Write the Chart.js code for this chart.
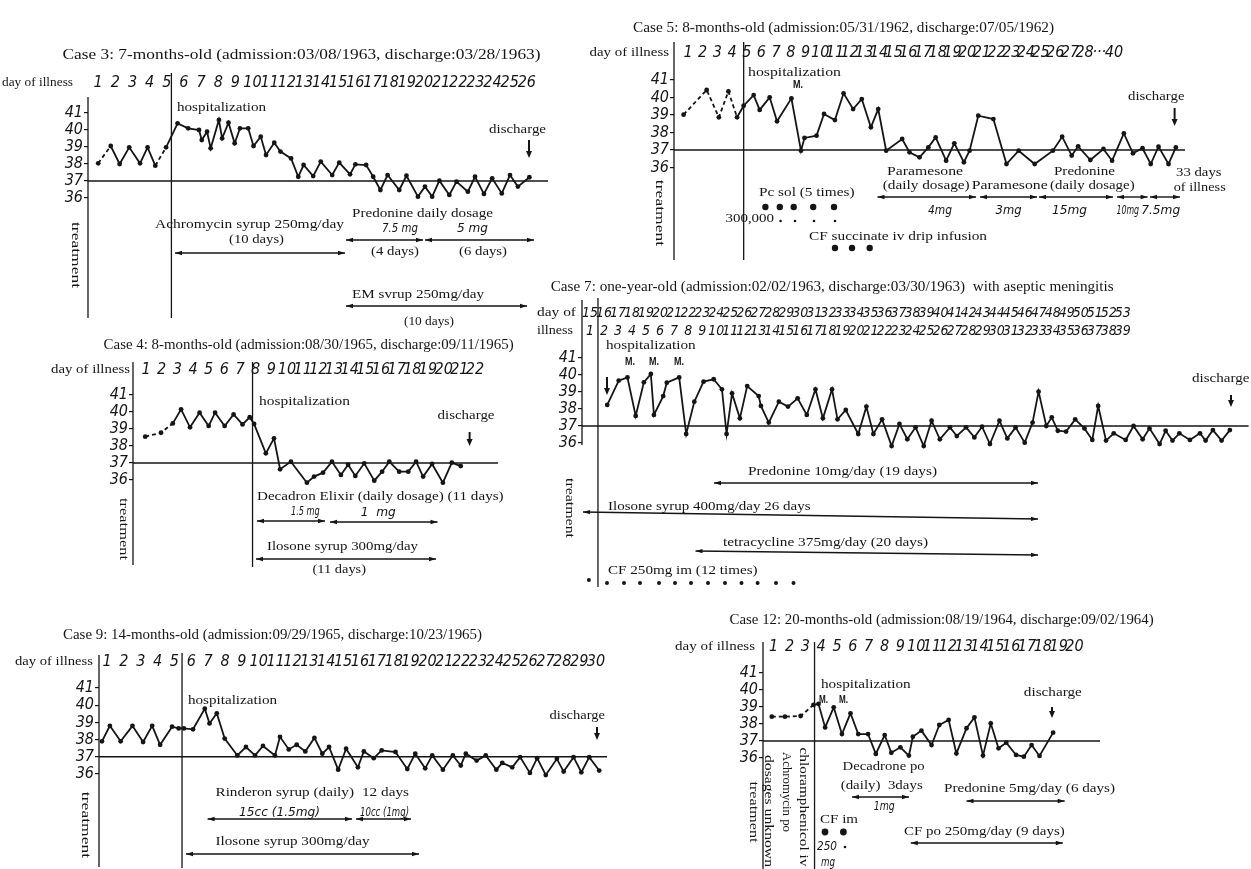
<!DOCTYPE html>
<html>
<head>
<meta charset="utf-8">
<title>Fever charts</title>
<script src="https://cdn.jsdelivr.net/npm/chart.js@4.4.1/dist/chart.umd.min.js"></script>
<style>
  html, body { margin: 0; padding: 0; background: #fff; }
  #sheet { position: relative; width: 1251px; height: 869px; overflow: hidden; background: #fff; }
  #sheet canvas { position: absolute; left: 0; top: 0; }
</style>
</head>
<body>
<div id="sheet"></div>
<script>
// ---------- Case 3 ----------
const case3DayLabels = ['1','2','3','4','5','6','7','8','9','10','11','12','13','14','15','16','17','18','19','20','21','22','23','24','25','26'];
const case3Day = [1.0, 1.73, 2.25, 2.81, 3.44, 3.88, 4.33, 4.96, 5.63, 6.25, 6.88, 7.04, 7.35, 7.56, 8.04, 8.23, 8.6, 8.96, 9.27, 9.75,
  10.06, 10.48, 10.79, 11.27, 11.63, 12.25, 12.67, 12.98, 13.54, 13.98, 14.65, 15.06, 15.69, 16.0, 16.63, 17.04, 17.46, 17.88, 18.56, 18.98,
  19.65, 20.06, 20.48, 20.9, 21.48, 21.9, 22.56, 22.98, 23.5, 23.98, 24.54, 25.02, 25.48, 26.15];
const case3Temp = [38.04, 39.06, 38.0, 38.98, 38.04, 38.98, 37.9, 38.98, 40.39, 40.1, 40.0, 39.41, 39.9, 38.92, 40.59, 39.51, 40.43, 39.22, 40.1, 40.1,
  39.06, 39.61, 38.53, 39.25, 38.73, 38.33, 37.25, 37.94, 37.29, 38.14, 37.35, 38.08, 37.39, 37.98, 37.94, 37.25, 36.47, 37.35, 36.47, 37.31,
  36.08, 36.67, 36.08, 37.02, 36.18, 36.96, 36.37, 37.25, 36.24, 37.16, 36.27, 37.35, 36.67, 37.22];
const case3Admission = 5.27;

// ---------- Case 5 ----------
const case5DayLabels = ['1','2','3','4','5','6','7','8','9','10','11','12','13','14','15','16','17','18','19','20','21','22','23','24','25','26','27','28','\u00b7\u00b7\u00b7','40'];
const case5Day = [0.70, 2.27, 3.10, 3.75, 4.34, 4.79, 5.47, 5.88, 6.56, 7.06, 8.04, 8.69, 8.93, 9.75, 10.26, 11.0, 11.59, 12.24, 12.83, 13.45,
  13.95, 14.49, 15.58, 16.08, 16.76, 17.36, 17.86, 18.57, 19.13, 19.78, 20.17, 20.76, 21.79, 22.68, 23.51, 24.6, 25.84, 26.47, 27.12, 27.56,
  28.39, 29.28, 29.87, 30.67, 31.29, 31.94, 32.5, 33.03, 33.71, 34.21];
const case5Temp = [39.02, 40.43, 38.87, 40.35, 38.87, 39.53, 40.14, 39.29, 40.01, 38.64, 39.95, 36.96, 37.69, 37.82, 39.06, 38.71, 40.24, 39.34, 39.91, 38.3,
  39.34, 36.96, 37.63, 36.87, 36.58, 37.15, 37.72, 36.39, 37.38, 36.3, 36.96, 38.96, 38.77, 36.2, 36.96, 36.2, 36.96, 37.76, 36.68, 37.21,
  36.43, 37.06, 36.39, 37.95, 36.81, 37.1, 36.2, 37.19, 36.2, 37.15];
const case5Admission = 4.79;

// ---------- Case 4 ----------
const case4DayLabels = ['1','2','3','4','5','6','7','8','9','10','11','12','13','14','15','16','17','18','19','20','21','22'];
const case4Day = [0.95, 1.96, 2.71, 3.24, 3.81, 4.42, 5.0, 5.41, 6.02, 6.59, 7.16, 7.62, 7.9, 8.65, 9.17, 9.56, 10.25, 11.27, 11.73, 12.3,
  12.87, 13.44, 13.9, 14.36, 14.93, 15.57, 16.07, 16.53, 17.16, 17.74, 18.24, 18.69, 19.26, 19.95, 20.52, 21.09];
const case4Temp = [38.55, 38.78, 39.33, 40.16, 39.1, 39.96, 39.18, 39.96, 39.18, 39.86, 39.27, 39.69, 39.3, 37.57, 38.45, 36.63, 37.08, 35.84, 36.2, 36.43,
  37.08, 36.3, 36.9, 36.24, 36.98, 35.96, 36.49, 37.08, 36.49, 36.49, 37.08, 36.2, 36.94, 35.84, 37.02, 36.82];
const case4Admission = 7.8;

// ---------- Case 9 ----------
const case9DayLabels = ['1','2','3','4','5','6','7','8','9','10','11','12','13','14','15','16','17','18','19','20','21','22','23','24','25','26','27','28','29','30'];
const case9Day = [0.70, 1.17, 1.81, 2.51, 3.14, 3.68, 4.15, 4.86, 5.25, 5.56, 6.1, 6.8, 7.08, 7.51, 7.98, 8.73, 9.24, 9.78, 10.25, 10.96,
  11.26, 11.78, 12.25, 12.76, 13.3, 13.77, 14.17, 14.71, 15.18, 15.88, 16.23, 16.82, 17.29, 18.11, 18.81, 19.28, 19.87, 20.29, 20.92, 21.51,
  21.98, 22.28, 22.92, 23.46, 24.09, 24.44, 25.03, 25.5, 26.08, 26.51, 27.02, 27.68, 28.08, 28.67, 29.13, 29.6, 30.19];
const case9Temp = [37.9, 38.8, 37.9, 38.8, 37.86, 38.8, 37.7, 38.75, 38.65, 38.65, 38.6, 39.8, 38.94, 39.53, 38.06, 37.08, 37.57, 37.08, 37.63, 37.08,
  38.16, 37.43, 37.7, 37.31, 38.1, 37.18, 37.57, 36.25, 37.47, 36.39, 37.31, 36.92, 37.37, 37.28, 36.29, 37.18, 36.33, 37.08, 36.25, 37.08,
  36.49, 37.18, 36.78, 37.08, 36.25, 36.65, 36.39, 36.98, 36.06, 36.92, 35.94, 36.88, 36.14, 36.98, 36.1, 36.98, 36.2];
const case9Admission = 5.45;

// ---------- Case 12 ----------
const case12DayLabels = ['1','2','3','4','5','6','7','8','9','10','11','12','13','14','15','16','17','18','19','20'];
const case12Day = [0.88, 1.71, 2.7, 3.51, 3.83, 4.25, 4.79, 5.31, 5.85, 6.34, 6.96, 7.45, 8.01, 8.43, 9.0, 9.54, 9.79, 10.33, 10.97, 11.46,
  12.05, 12.54, 13.18, 13.68, 14.22, 14.71, 15.2, 15.69, 16.31, 16.8, 17.29, 17.79, 18.65];
const case12Temp = [38.43, 38.43, 38.47, 39.12, 39.18, 37.8, 38.98, 37.41, 38.63, 37.41, 37.41, 36.24, 37.35, 36.31, 36.63, 36.14, 37.25, 37.61, 36.76, 37.94,
  38.24, 36.27, 37.75, 38.39, 36.14, 38.04, 36.57, 36.9, 36.18, 36.08, 36.76, 36.12, 37.49];
const case12Admission = 3.58;

// ---------- Case 7 (two label rows: day of illness / day in hospital) ----------
const case7IllnessDays = ['15','16','17','18','19','20','21','22','23','24','25','26','27','28','29','30','31','32','33','34','35','36','37','38','39','40','41','42','43','44','45','46','47','48','49','50','51','52','53'];
const case7HospitalDays = ['1','2','3','4','5','6','7','8','9','10','11','12','13','14','15','16','17','18','19','20','21','22','23','24','25','26','27','28','29','30','31','32','33','34','35','36','37','38','39'];
const case7Day = [2.23, 3.05, 3.67, 4.26, 4.84, 5.34, 5.56, 6.22, 6.48, 7.36, 7.86, 8.44, 9.1, 9.82, 10.41, 10.74, 11.13, 11.69, 12.21, 13.03,
  13.19, 13.75, 14.47, 15.12, 15.81, 16.46, 17.08, 17.61, 18.26, 18.65, 19.24, 20.13, 20.71, 21.21, 21.83, 22.51, 23.07, 23.63, 24.22, 24.8,
  25.36, 25.95, 26.67, 27.16, 27.82, 28.41, 28.96, 29.52, 30.2, 30.76, 31.35, 32.0, 32.56, 32.99, 33.54, 33.93, 34.36, 34.95, 35.6, 36.26,
  36.82, 37.24, 37.8, 38.35, 39.2, 39.76, 40.41, 40.9, 41.62, 42.05, 42.54, 43.03, 43.78, 44.5, 44.9, 45.42, 46.04, 46.63];
const case7Temp = [38.24, 39.67, 39.86, 37.59, 39.57, 40.06, 37.65, 38.76, 39.55, 39.86, 36.53, 38.43, 39.61, 39.75, 39.16, 36.53, 38.92, 37.45, 39.35, 38.76,
  38.18, 37.2, 38.43, 38.14, 38.63, 37.65, 39.16, 37.45, 39.16, 37.39, 37.94, 36.53, 38.14, 36.53, 37.39, 35.82, 37.12, 36.22, 36.92, 35.82,
  37.31, 36.22, 36.92, 36.41, 36.92, 36.33, 36.96, 35.94, 37.31, 36.27, 36.92, 36.02, 37.2, 39.02, 37.0, 37.51, 36.72, 36.67, 37.39, 36.86,
  36.18, 38.18, 36.14, 36.57, 36.18, 37.0, 36.22, 36.86, 35.94, 36.72, 36.14, 36.57, 36.18, 36.57, 36.14, 36.76, 36.14, 36.76];
const case7Admission = 1.57;

const temperatureTicks = [36, 37, 38, 39, 40, 41];

// ---------- drawing styles ----------
const INK = '#151515';
const SERIF = '"Liberation Serif", "DejaVu Serif", serif';
const NARROW = '"Liberation Sans Narrow", "DejaVu Sans Condensed", "Liberation Sans", sans-serif';
const SANS = '"Liberation Sans", "DejaVu Sans", sans-serif';
const T_MAX = 41.3, T_MIN = 35.5;

// Text items: [text, left x (centre x when rotated), centre y, width, size, kind]
// kind: 's' serif, 'i' italic handwriting-style, 'b' bold mark, 'r' serif rotated a quarter turn
const panels = [
  {
    days: case3Day, temps: case3Temp, labels: case3DayLabels, admission: case3Admission,
    left: 88, right: 548, y41: 113, y36: 198,
    dayFirstX: 98.2, dayLastX: 526.8, labelY: 83, labelFont: 16, labelLine: 19,
    axisSpan: [97, 318], hospSpan: [73, 318], dashed: [0, 6],
    texts: [
      ['Case 3: 7-months-old (admission:03/08/1963, discharge:03/28/1963)', 62.5, 55, 478, 14, 's'],
      ['day of illness', 2, 83, 71, 13, 's'],
      ['hospitalization', 177, 108, 89, 13, 's'],
      ['discharge', 489, 130, 57, 13, 's'],
      ['treatment', 75, 255, 66, 13, 'r'],
      ['Achromycin syrup 250mg/day', 155, 225, 189, 13, 's'],
      ['(10 days)', 229, 240, 55, 13, 's'],
      ['Predonine daily dosage', 352, 214, 141, 13, 's'],
      ['7.5 mg', 382, 229, 36, 13, 'i'],
      ['5 mg', 457, 229, 31, 13, 'i'],
      ['(4 days)', 371, 252, 48, 13, 's'],
      ['(6 days)', 459, 252, 48, 13, 's'],
      ['EM svrup 250mg/day', 352, 295, 132, 13, 's'],
      ['(10 days)', 404, 322, 50, 13, 's']
    ],
    arrows: [[175, 253, 345, 253], [346, 240, 423, 240], [425, 240, 534, 240], [346, 306, 527, 306]],
    downArrows: [[529, 140, 158]],
    dots: []
  },
  {
    days: case5Day, temps: case5Temp, labels: case5DayLabels, admission: case5Admission,
    left: 674, right: 1185, y41: 80, y36: 167.5,
    dayFirstX: 688, dayLastX: 1114, labelY: 53, labelFont: 16, labelLine: 19,
    axisSpan: [42, 260], hospSpan: [42, 260], dashed: [0, 1, 2, 3],
    texts: [
      ['Case 5: 8-months-old (admission:05/31/1962, discharge:07/05/1962)', 633, 28, 421, 14, 's'],
      ['day of illness', 589.5, 53, 79.5, 13, 's'],
      ['hospitalization', 748, 73, 93, 13, 's'],
      ['M.', 793, 85, 10, 10, 'b'],
      ['discharge', 1128, 97, 56.5, 13, 's'],
      ['treatment', 659, 213, 67, 13, 'r'],
      ['Paramesone', 887, 172, 76, 13, 's'],
      ['(daily dosage)', 882.7, 186, 87, 13, 's'],
      ['Paramesone', 971.7, 186, 76, 13, 's'],
      ['Predonine', 1054, 172, 61, 13, 's'],
      ['(daily dosage)', 1050, 186, 84.6, 13, 's'],
      ['33 days', 1176, 173, 45.5, 13, 's'],
      ['of illness', 1173.7, 188, 52, 13, 's'],
      ['4mg', 928, 211, 24, 12, 'i'],
      ['3mg', 995.6, 211, 26, 12, 'i'],
      ['15mg', 1052, 211, 35, 12, 'i'],
      ['10mg', 1116.4, 211, 22.6, 12, 'i'],
      ['7.5mg', 1141.2, 211, 39, 12, 'i'],
      ['Pc sol (5 times)', 759, 193, 95.5, 13, 's'],
      ['300,000', 725.5, 219, 48.5, 12, 's'],
      ['CF succinate iv drip infusion', 809, 237, 178, 13, 's']
    ],
    arrows: [[877.5, 197, 976, 197], [980, 197, 1037, 197], [1039, 197, 1113, 197], [1117, 197, 1147.6, 197], [1150, 197, 1180, 197]],
    downArrows: [[1174.6, 108, 126]],
    dots: [[765.4, 207, 3.2], [779.8, 207, 3.2], [793.7, 207, 3.2], [813.2, 207, 3.2], [834, 207, 3.2],
           [780.6, 221, 1.3], [795, 221, 1.3], [814, 221, 1.3], [835, 221, 1.3],
           [835, 248, 3.2], [852, 248, 3.2], [869.7, 248, 3.2]]
  },
  {
    days: case4Day, temps: case4Temp, labels: case4DayLabels, admission: case4Admission,
    left: 133, right: 498, y41: 395, y36: 480,
    dayFirstX: 146, dayLastX: 475, labelY: 370, labelFont: 16, labelLine: 19,
    axisSpan: [362, 565], hospSpan: [362, 567], dashed: [0, 1],
    texts: [
      ['Case 4: 8-months-old (admission:08/30/1965, discharge:09/11/1965)', 103.6, 345, 410, 14, 's'],
      ['day of illness', 51, 370, 79, 13, 's'],
      ['hospitalization', 259, 402, 91, 13, 's'],
      ['discharge', 437.5, 416, 57, 13, 's'],
      ['treatment', 123, 529, 62, 13, 'r'],
      ['Decadron Elixir (daily dosage) (11 days)', 257, 497, 246.6, 13, 's'],
      ['1.5 mg', 291, 512, 27, 13, 'i'],
      ['1  mg', 360.7, 513, 35, 13, 'i'],
      ['Ilosone syrup 300mg/day', 267, 547, 151, 13, 's'],
      ['(11 days)', 312.5, 570, 53.5, 13, 's']
    ],
    arrows: [[257, 521, 325, 521], [330, 522, 437.5, 522], [256, 559, 436, 559]],
    downArrows: [[469.6, 432, 446]],
    dots: []
  },
  {
    days: case9Day, temps: case9Temp, labels: case9DayLabels, admission: case9Admission,
    left: 99, right: 607, y41: 688, y36: 774,
    dayFirstX: 107, dayLastX: 596, labelY: 662, labelFont: 16, labelLine: 19,
    axisSpan: [655, 867], hospSpan: [653, 868], dashed: [],
    texts: [
      ['Case 9: 14-months-old (admission:09/29/1965, discharge:10/23/1965)', 63, 635, 419, 14, 's'],
      ['day of illness', 15, 662, 78, 13, 's'],
      ['hospitalization', 188, 701, 89, 13, 's'],
      ['discharge', 549.6, 716, 55.4, 13, 's'],
      ['treatment', 85, 825, 70, 13, 'r'],
      ['Rinderon syrup (daily)', 215.5, 793, 138.5, 13, 's'],
      ['12 days', 362, 793, 47, 13, 's'],
      ['15cc (1.5mg)', 239, 813, 81, 13, 'i'],
      ['10cc (1mg)', 360, 813, 49, 13, 'i'],
      ['Ilosone syrup 300mg/day', 215.5, 842, 154, 13, 's']
    ],
    arrows: [[207.6, 819, 352, 819], [356, 819, 411, 819], [186, 854, 419, 854]],
    downArrows: [[597, 727, 740]],
    dots: []
  },
  {
    days: case12Day, temps: case12Temp, labels: case12DayLabels, admission: case12Admission,
    left: 763, right: 1100, y41: 673, y36: 758,
    dayFirstX: 773.7, dayLastX: 1074.5, labelY: 647, labelFont: 16, labelLine: 19,
    axisSpan: [642, 870], hospSpan: [642, 870], dashed: [0, 1, 2],
    texts: [
      ['Case 12: 20-months-old (admission:08/19/1964, discharge:09/02/1964)', 729.6, 620, 424, 14, 's'],
      ['day of illness', 675, 647, 80, 13, 's'],
      ['hospitalization', 821, 685, 89.6, 13, 's'],
      ['M.', 819, 700, 9, 10, 'b'],
      ['M.', 839, 700, 9, 10, 'b'],
      ['discharge', 1023.8, 693, 58, 13, 's'],
      ['treatment', 753, 812, 61, 13, 'r'],
      ['dosages unknown', 768.6, 811, 112, 13, 'r'],
      ['Achromycin po', 786, 792, 80, 13, 'r'],
      ['chloramphenicol iv', 803.7, 807, 119, 13, 'r'],
      ['Decadrone po', 842.6, 767, 82, 13, 's'],
      ['(daily)  3days', 840.7, 786, 82, 13, 's'],
      ['1mg', 873.8, 807, 21, 12, 'i'],
      ['Predonine 5mg/day (6 days)', 944, 789, 171, 13, 's'],
      ['CF im', 820, 820, 38, 13, 's'],
      ['250', 817, 847, 20, 13, 'i'],
      ['mg', 821, 863, 14, 12, 'i'],
      ['CF po 250mg/day (9 days)', 904, 832, 160.7, 13, 's']
    ],
    arrows: [[852, 797, 909, 797], [966.5, 801, 1064.7, 801], [910.8, 843, 1062.8, 843]],
    downArrows: [[1052, 707, 718]],
    dots: [[825, 832, 3.4], [843.4, 832, 3.4], [845, 847, 1.3]]
  },
  {
    days: case7Day, temps: case7Temp, labels: case7HospitalDays, upperLabels: case7IllnessDays, admission: case7Admission,
    left: 582, right: 1250, y41: 358, y36: 443,
    dayFirstX: 590, dayLastX: 1124, labelY: 331, upperY: 313, labelFont: 14, labelLine: 17,
    axisSpan: [300, 445], hospSpan: [298, 587], dashed: [],
    texts: [
      ['Case 7: one-year-old (admission:02/02/1963, discharge:03/30/1963)  with aseptic meningitis', 550.7, 287, 563, 14, 's'],
      ['day of', 537, 313, 39, 13, 's'],
      ['illness', 537, 331, 36, 13, 's'],
      ['hospitalization', 606, 346, 89.7, 13, 's'],
      ['M.', 625, 362, 10, 10, 'b'],
      ['M.', 649, 362, 10, 10, 'b'],
      ['M.', 674, 362, 10, 10, 'b'],
      ['discharge', 1192, 379, 57.5, 13, 's'],
      ['treatment', 569, 508, 60, 13, 'r'],
      ['Predonine 10mg/day (19 days)', 748, 472, 189, 13, 's'],
      ['Ilosone syrup 400mg/day 26 days', 608, 507, 202.5, 13, 's'],
      ['tetracycline 375mg/day (20 days)', 723, 543, 205, 13, 's'],
      ['CF 250mg im (12 times)', 608, 571, 149.6, 13, 's']
    ],
    arrows: [[714, 483, 1038, 483], [583, 512, 1038, 519], [695.5, 551, 1038, 555]],
    downArrows: [[607, 377, 395], [1231, 395, 407]],
    dots: [[588.9, 580, 2], [607, 583, 2], [624, 583, 2], [640, 583, 2], [659, 583, 2], [675, 583, 2], [691, 583, 2],
           [708, 583, 2], [725, 583, 2], [741.5, 583, 2], [757.6, 583, 2], [776, 583, 2], [793.5, 583, 2]]
  }
];

// ---------- helpers ----------
function stroke(ctx, x1, y1, x2, y2) {
  ctx.beginPath(); ctx.moveTo(x1, y1); ctx.lineTo(x2, y2); ctx.stroke();
}
function head(ctx, x, y, ang, len, half) {
  ctx.save(); ctx.translate(x, y); ctx.rotate(ang);
  ctx.beginPath(); ctx.moveTo(0, 0); ctx.lineTo(-len, -half); ctx.lineTo(-len, half); ctx.closePath(); ctx.fill();
  ctx.restore();
}
function drawArrow(ctx, [x1, y1, x2, y2]) {
  ctx.save(); ctx.strokeStyle = INK; ctx.fillStyle = INK; ctx.lineWidth = 1.4;
  stroke(ctx, x1, y1, x2, y2);
  head(ctx, x2, y2, Math.atan2(y2 - y1, x2 - x1), 7, 2.2);
  head(ctx, x1, y1, Math.atan2(y1 - y2, x1 - x2), 7, 2.2);
  ctx.restore();
}
function drawDown(ctx, [x, y1, y2]) {
  ctx.save(); ctx.strokeStyle = INK; ctx.fillStyle = INK; ctx.lineWidth = 2;
  stroke(ctx, x, y1, x, y2 - 4);
  head(ctx, x, y2, Math.PI / 2, 7, 3);
  ctx.restore();
}
function drawDot(ctx, [x, y, r]) {
  ctx.save(); ctx.fillStyle = INK; ctx.beginPath(); ctx.arc(x, y, r, 0, Math.PI * 2); ctx.fill(); ctx.restore();
}
function drawText(ctx, [s, x, y, w, size, kind]) {
  ctx.save();
  ctx.fillStyle = INK;
  ctx.textBaseline = 'middle';
  ctx.font = kind === 'i' ? `italic ${size}px ${NARROW}` : kind === 'b' ? `bold ${size}px ${SANS}` : `${size}px ${SERIF}`;
  const k = Math.min(1.35, Math.max(0.7, w / ctx.measureText(s).width));
  ctx.translate(x, y);
  if (kind === 'r') {
    ctx.rotate(Math.PI / 2); ctx.scale(k, 1); ctx.textAlign = 'center';
  } else {
    ctx.scale(k, 1); ctx.textAlign = 'left';
  }
  ctx.fillText(s, 0, 0);
  ctx.restore();
}

// Axis rules, the 37 °C reference line and all the handwritten annotations
function sketchPlugin(p) {
  return {
    id: 'sketch',
    beforeDatasetsDraw(chart) {
      const { ctx, chartArea: a, scales } = chart;
      ctx.save();
      ctx.strokeStyle = INK;
      ctx.lineWidth = 1.3;
      stroke(ctx, a.left, p.axisSpan[0], a.left, p.axisSpan[1]);
      const hx = scales.xd.getPixelForValue(p.admission);
      stroke(ctx, hx, p.hospSpan[0], hx, p.hospSpan[1]);
      ctx.lineWidth = 1.5;
      const y37 = scales.y.getPixelForValue(37);
      stroke(ctx, a.left, y37, a.right, y37);
      ctx.restore();
    },
    afterDraw(chart) {
      const ctx = chart.ctx;
      p.texts.forEach(t => drawText(ctx, t));
      p.arrows.forEach(r => drawArrow(ctx, r));
      p.downArrows.forEach(r => drawDown(ctx, r));
      p.dots.forEach(d => drawDot(ctx, d));
    }
  };
}

// A top day axis whose label row is centred on a given page row
function dayAxis(labels, opts) {
  return {
    type: 'linear', position: 'top', weight: opts.weight, min: opts.min, max: opts.max,
    grid: { display: false, drawTicks: false, tickLength: 0 }, border: { display: false },
    afterBuildTicks: s => { s.ticks = labels.map((_, i) => ({ value: i + 1 })); },
    afterFit: s => { s.height = opts.height; },
    ticks: {
      autoSkip: false, maxRotation: 0, minRotation: 0,
      padding: opts.padding,
      color: INK,
      font: { family: NARROW, size: opts.size, style: 'italic', lineHeight: opts.line / opts.size },
      callback: v => labels[Math.round(v) - 1]
    }
  };
}

const W = 1251, H = 869;
const sheet = document.getElementById('sheet');

panels.forEach(p => {
  const canvas = document.createElement('canvas');
  canvas.width = W; canvas.height = H;
  canvas.style.width = W + 'px'; canvas.style.height = H + 'px';
  sheet.appendChild(canvas);

  // vertical placement: 41 °C and 36 °C land on the drawn tick rows
  const ppd = (p.y36 - p.y41) / 5;
  const top = p.y41 - (T_MAX - 41) * ppd;
  const bottom = p.y36 + (36 - T_MIN) * ppd;
  // horizontal placement of the day scale
  const K = p.labels.length;
  const ppx = (p.dayLastX - p.dayFirstX) / (K - 1);
  const xMin = 1 - (p.dayFirstX - p.left) / ppx;
  const xMax = K + (p.right - p.dayLastX) / ppx;

  const yAxisW = 30;
  const innerH = p.upperLabels ? 32 : 44;
  const outerH = p.upperLabels ? 22 : 0;
  const dashSet = new Set(p.dashed);

  const scales = {
    xd: dayAxis(p.labels, {
      weight: 0, min: xMin, max: xMax, height: innerH, size: p.labelFont, line: p.labelLine,
      padding: top - (p.labelY + p.labelLine / 2)
    }),
    y: {
      type: 'linear', position: 'left', min: T_MIN, max: T_MAX,
      afterBuildTicks: s => { s.ticks = temperatureTicks.map(v => ({ value: v })); },
      afterFit: s => { s.width = yAxisW; },
      grid: { display: true, drawOnChartArea: false, drawTicks: true, tickLength: 4, color: INK, lineWidth: 1.2 },
      border: { display: false },
      ticks: {
        autoSkip: false, padding: 1, color: INK,
        font: { family: NARROW, size: 16, style: 'italic', lineHeight: 1 },
        callback: v => String(v)
      }
    }
  };
  if (p.upperLabels) {
    scales.xi = dayAxis(p.upperLabels, {
      weight: 1, min: xMin, max: xMax, height: outerH, size: p.labelFont, line: p.labelLine,
      padding: (top - innerH) - (p.upperY + p.labelLine / 2)
    });
  }

  new Chart(canvas, {
    type: 'line',
    data: {
      datasets: [{
        data: p.days.map((d, i) => ({ x: d, y: p.temps[i] })),
        xAxisID: 'xd', yAxisID: 'y',
        borderColor: INK, borderWidth: 1.8,
        pointRadius: 2.4, pointBackgroundColor: INK, pointBorderWidth: 0, pointHoverRadius: 2.4,
        tension: 0, fill: false, clip: false,
        segment: { borderDash: c => dashSet.has(c.p0DataIndex) ? [4, 3] : undefined }
      }]
    },
    options: {
      responsive: false, animation: false, devicePixelRatio: 1,
      events: [],
      layout: { padding: { left: p.left - yAxisW, right: W - p.right, top: top - innerH - outerH, bottom: H - bottom } },
      plugins: { legend: { display: false }, tooltip: { enabled: false } },
      scales
    },
    plugins: [sketchPlugin(p)]
  });
});
</script>
</body>
</html>
